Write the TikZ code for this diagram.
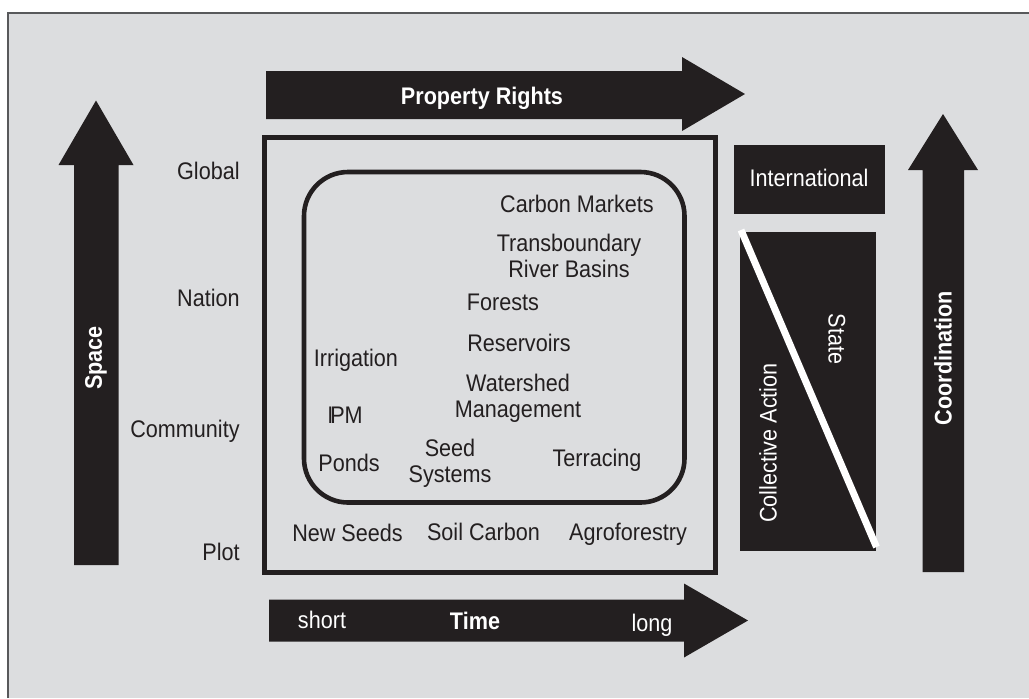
\documentclass[tikz,border=0pt]{standalone}
\usepackage{fontspec}
\setmainfont{Liberation Sans}[FakeStretch=0.9]
\usepackage{tikz}

\definecolor{ink}{HTML}{231F20}
\definecolor{panel}{HTML}{DCDDDF}
\definecolor{rim}{HTML}{58595B}

\begin{document}
\begin{tikzpicture}[x=0.5pt,y=-0.5pt,
  lbl/.style={inner sep=0pt, text=ink, font=\fontsize{12}{13}\selectfont, anchor=base, align=center},
  wlbl/.style={lbl, text=white},
  blbl/.style={wlbl, font=\fontsize{12}{13}\selectfont\bfseries},
  vlbl/.style={inner sep=0pt, text=white, anchor=center, font=\fontsize{12}{13}\selectfont}]

  \useasboundingbox (0,0) rectangle (1029,698);
  % panel
  \fill[panel] (7.5,12.5) rectangle (1029,698);
  \draw[rim, line width=1pt] (7.5,698) -- (7.5,12.5) -- (1029,12.5);

  % big arrows
  \fill[ink] (266,71) -- (682,71) -- (682,57) -- (745,94) -- (682,131) -- (682,119) -- (266,119) -- cycle;
  \fill[ink] (269,599.5) -- (684,599.5) -- (684,583.5) -- (748,620.5) -- (684,657.5) -- (684,641.5) -- (269,641.5) -- cycle;
  \fill[ink] (74,565) -- (74,165) -- (58.5,165) -- (96,100.5) -- (133.5,165) -- (118.5,165) -- (118.5,565) -- cycle;
  \fill[ink] (922.5,572) -- (922.5,170) -- (908,170) -- (943,114) -- (978,170) -- (964,170) -- (964,572) -- cycle;

  % boxes
  \draw[ink, line width=2.25pt] (264.5,137.5) rectangle (715.5,572.5);
  \draw[ink, line width=2.3pt, rounded corners=22pt] (304,172) rectangle (684.5,502.5);
  \fill[ink] (733.5,145) rectangle (885,213.5);
  \fill[ink] (739.5,231.5) rectangle (875.5,551);
  \draw[white, line width=3.5pt] (741,230) -- (876.5,547);

  % arrow labels
  \node[blbl] (rights) at (482,104) {Property Rights};
  \node[wlbl] (short) at (322,628.5) {short};
  \node[blbl] (time) at (475,629) {Time};
  \node[wlbl] (long) at (652,631) {long};
  \node[vlbl, rotate=90, font=\fontsize{12}{13}\selectfont\bfseries] (space) at (96,358) {Space};
  \node[vlbl, rotate=90, font=\fontsize{12}{13}\selectfont\bfseries] (coord) at (943,358) {Coordination};

  % levels
  \node[lbl, anchor=base east] (global) at (240,179) {Global};
  \node[lbl, anchor=base east] (nation) at (240,306) {Nation};
  \node[lbl, anchor=base east] (community) at (240,437) {Community};
  \node[lbl, anchor=base east] (plot) at (240,560) {Plot};

  % governance
  \node[wlbl] (intl) at (809,186) {International};
  \node[vlbl, rotate=-90] (state) at (837,339) {State};
  \node[vlbl, rotate=90] (collective) at (768,443) {Collective Action};

  % resources (two-line nodes sit on their last line)
  \node[lbl] (carbonmkt) at (577,212) {Carbon Markets};
  \node[lbl] (river) at (569,277) {Transboundary\\River Basins};
  \node[lbl] (forests) at (503,310) {Forests};
  \node[lbl] (reservoirs) at (519,351.5) {Reservoirs};
  \node[lbl] (irrigation) at (356,366.5) {Irrigation};
  \node[lbl] (watershed) at (518,417.5) {Watershed\\Management};
  \node[lbl] (ipm) at (345,423) {I\kern-1.5ptPM};
  \node[lbl] (seedsys) at (450,482) {Seed\\Systems};
  \node[lbl] (ponds) at (349,471.5) {Ponds};
  \node[lbl] (terracing) at (597,466) {Terracing};
  \node[lbl] (newseeds) at (347.5,541.5) {New Seeds};
  \node[lbl] (soilcarbon) at (483.5,540) {Soil Carbon};
  \node[lbl] (agroforestry) at (628,540) {Agroforestry};
\end{tikzpicture}
\end{document}
